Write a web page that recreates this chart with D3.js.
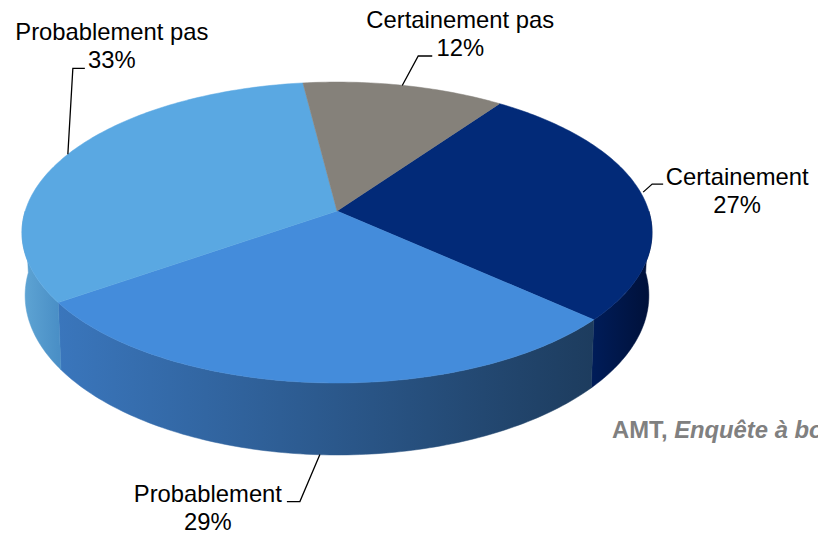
<!DOCTYPE html>
<html>
<head>
<meta charset="utf-8">
<script src="https://cdn.jsdelivr.net/npm/d3@7"></script>
<style>
  html, body { margin: 0; padding: 0; background: #fff; overflow: hidden; }
  text { font-family: "Liberation Sans", Arial, sans-serif; fill: #000; }
</style>
</head>
<body>
<svg id="chart" width="818" height="536"></svg>
<script>
var categories = ["Certainement", "Probablement", "Probablement pas", "Certainement pas"];
var values = [27, 29, 33, 12];
var topColors = ["#022a78", "#448cdb", "#5aa8e2", "#85817a"];
var sideFrom = ["#001c58", "#3a76bc", "#5da3d3", "#6a6760"];
var sideTo = ["#00113a", "#1d3c5e", "#4a8fc6", "#6a6760"];
var source = ["AMT, ", "Enquête à bord"];

// leader start/elbow/end + label anchor, relative to the rim point of each slice
var labelLayout = [
  {start: [1, -3], elbow: [10, -11], end: [21, -11], text: [95, -10]},
  {start: [5, 0], elbow: [-15, 47], end: [-28, 47], text: [-107, 47]},
  {start: [0, 0], elbow: [5, -86], end: [17, -86], text: [44, -114]},
  {start: [-2, 0], elbow: [14, -29.5], end: [28, -29.5], text: [56, -57.5]}
];

var svg = d3.select("#chart"),
  cx = 337, cy = 211,      // pie centre as seen on screen
  rx = 311.8, ry = 147.4,  // radii of the tilted disc
  persp = 0.143,           // near side looks bigger
  depth = 61.7,
  bottomScale = 0.99,      // lower rim a bit narrower
  fontSize = 23.8,
  lineGap = 28;

var pie = d3.pie().sort(null)
  .startAngle(35.6 * Math.PI / 180)
  .endAngle((35.6 + 360) * Math.PI / 180);
var slices = pie(values);

function rim(a, drop) {
  var u = Math.sin(a), v = -Math.cos(a), s = 1 / (1 - persp * v);
  var k = drop ? bottomScale : 1;
  return [cx + rx * u * s * k, cy + ry * v * s + (drop ? depth * s : 0)];
}

function arcPoints(a0, a1, drop) {
  var n = Math.max(2, Math.ceil((a1 - a0) * 60));
  return d3.range(n + 1).map(function(i) { return rim(a0 + (a1 - a0) * i / n, drop); });
}

var line = d3.line();
var defs = svg.append("defs");

// side walls: only the part of a slice that faces the viewer (angles 90deg..270deg region)
function frontPart(d) {
  var lo = Math.PI / 2, hi = 3 * Math.PI / 2;
  var a0 = Math.max(d.startAngle, lo), a1 = Math.min(d.endAngle, hi);
  return a1 > a0 ? [a0, a1] : null;
}

slices.forEach(function(d, i) {
  var part = frontPart(d);
  if (!part) return;
  var p0 = rim(part[0], false), p1 = rim(part[1], false);
  var g = defs.append("linearGradient")
    .attr("id", "side" + i)
    .attr("gradientUnits", "userSpaceOnUse")
    .attr("x1", p1[0]).attr("y1", 0)
    .attr("x2", p0[0]).attr("y2", 0);
  g.append("stop").attr("offset", 0).attr("stop-color", sideFrom[i]);
  g.append("stop").attr("offset", 1).attr("stop-color", sideTo[i]);
  svg.append("path")
    .attr("d", line(arcPoints(part[0], part[1], false).concat(arcPoints(part[0], part[1], true).reverse())) + "Z")
    .attr("fill", "url(#side" + i + ")")
    .attr("stroke", "url(#side" + i + ")")
    .attr("stroke-width", 0.5);
});

svg.selectAll("path.face")
  .data(slices)
  .enter().append("path")
    .attr("class", "face")
    .attr("d", function(d) {
      return line([[cx, cy]].concat(arcPoints(d.startAngle, d.endAngle, false))) + "Z";
    })
    .attr("fill", function(d, i) { return topColors[i]; })
    .attr("stroke", function(d, i) { return topColors[i]; })
    .attr("stroke-width", 0.5);

slices.forEach(function(d, i) {
  var mid = (d.startAngle + d.endAngle) / 2,
    front = Math.cos(mid) < -0.5,
    p = rim(mid, front),
    l = labelLayout[i];

  svg.append("path")
    .attr("d", line([[p[0] + l.start[0], p[1] + l.start[1]], [p[0] + l.elbow[0], p[1] + l.elbow[1]], [p[0] + l.end[0], p[1] + l.end[1]]]))
    .attr("fill", "none")
    .attr("stroke", "#000")
    .attr("stroke-width", 1.3);

  var t = svg.append("text")
    .attr("text-anchor", "middle")
    .attr("font-size", fontSize)
    .attr("x", p[0] + l.text[0])
    .attr("y", p[1] + l.text[1]);
  t.append("tspan").text(categories[i]);
  t.append("tspan")
    .attr("x", p[0] + l.text[0])
    .attr("dy", lineGap)
    .text(values[i] + "%");
});

var src = svg.append("text")
  .attr("x", 612)
  .attr("y", 438)
  .attr("font-size", 23.8)
  .attr("font-weight", "bold")
  .style("fill", "#808080");
src.append("tspan").text(source[0]);
src.append("tspan").attr("font-style", "italic").text(source[1]);
</script>
</body>
</html>
